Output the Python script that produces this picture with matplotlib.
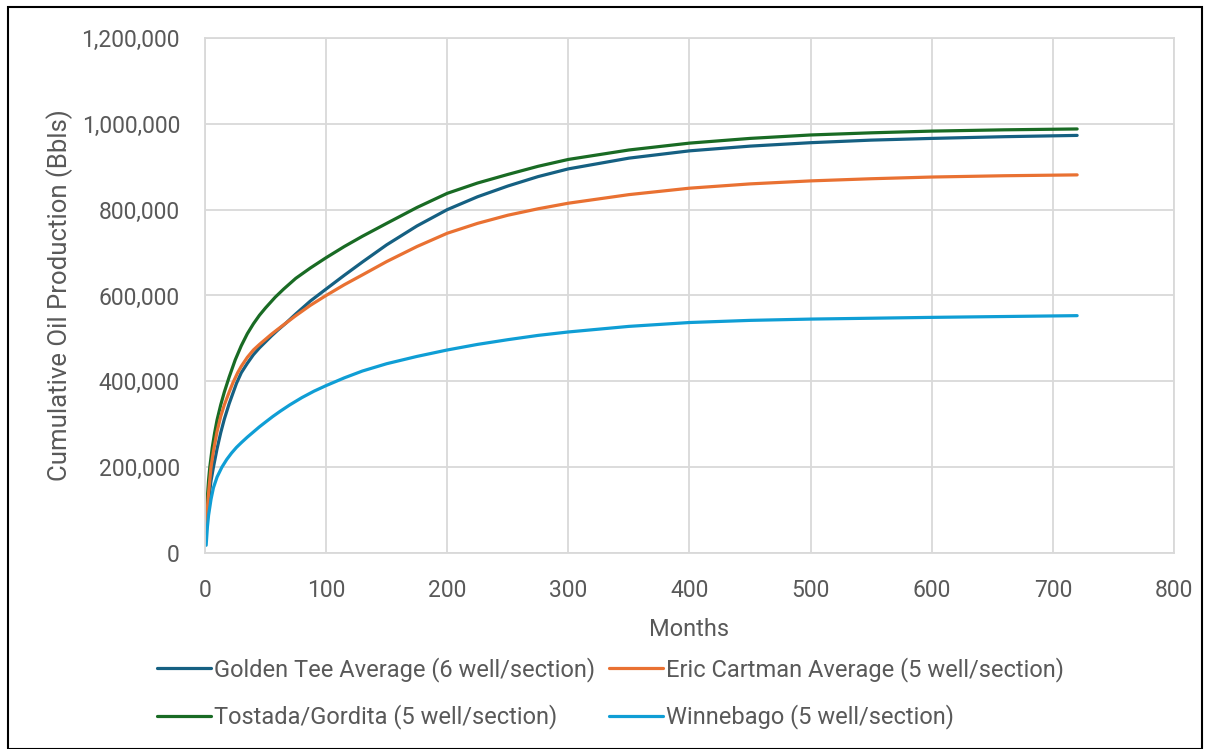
import numpy as np
import matplotlib
matplotlib.use("Agg")
from matplotlib import pyplot as plt
from matplotlib.patches import Rectangle
from matplotlib.ticker import FuncFormatter

plt.rcParams['font.family'] = ['Roboto', 'DejaVu Sans']

# values, cumulative oil in thousands of bbls

# Golden Tee Average (6 well/section)
gt_months = [1, 2, 3, 4, 5, 7, 10, 13, 16, 20, 26, 30, 35, 40, 45, 50, 55, 60, 67, 75, 87, 100,
             115, 130, 150, 175, 200, 225, 250, 275, 300, 350, 400, 450, 500, 550, 600, 660, 720]
gt_oil = [45, 90, 120, 145, 168, 200, 243, 280, 312, 348, 395, 420, 442, 462, 478, 492, 506, 519, 536, 557, 587, 615,
          647, 678, 718, 762, 800, 830, 855, 877, 895, 920, 937, 948, 956, 962, 966, 970, 973]

# Eric Cartman Average (5 well/section)
ec_months = [1, 2, 3, 5, 7, 10, 13, 16, 20, 23, 27, 30, 35, 40, 45, 50, 55, 60, 67, 75, 87, 100,
             115, 130, 150, 175, 200, 225, 250, 275, 300, 350, 400, 450, 500, 550, 600, 660, 720]
ec_oil = [55, 105, 140, 200, 237, 283, 318, 345, 375, 396, 420, 435, 456, 473, 486, 498, 510, 521, 536, 553, 577, 600,
          625, 648, 679, 714, 745, 768, 787, 802, 815, 835, 850, 860, 867, 872, 876, 879, 881]

# Tostada/Gordita (5 well/section)
tg_months = [1, 2, 3, 4, 6, 8, 10, 13, 16, 20, 25, 30, 35, 40, 45, 50, 58, 65, 75, 87, 100,
             115, 130, 150, 175, 200, 225, 250, 275, 300, 350, 400, 450, 500, 550, 600, 660, 720]
tg_oil = [75, 130, 170, 200, 245, 280, 310, 345, 375, 410, 450, 483, 511, 534, 554, 571, 596, 615, 640, 664, 688,
          714, 738, 768, 805, 838, 862, 882, 901, 917, 939, 955, 966, 974, 979, 983, 986, 988]

# Winnebago (5 well/section)
wb_months = [1, 2, 3, 5, 7, 10, 14, 18, 22, 26, 30, 35, 40, 45, 50, 56, 62, 70, 80, 90, 100,
             115, 130, 150, 175, 200, 225, 250, 275, 300, 350, 400, 450, 500, 550, 600, 660, 720]
wb_oil = [18, 60, 88, 125, 152, 177, 200, 218, 233, 246, 257, 270, 282, 294, 305, 318, 330, 345, 362, 377, 390,
          408, 424, 441, 458, 473, 486, 497, 507, 515, 528, 537, 542, 545, 547, 549, 551, 553]

text_color = '#595959'
grid_color = '#D9D9D9'

fig = plt.figure(figsize=(12.07, 7.49), dpi=100)
ax = fig.add_axes([0.1698, 0.2617, 0.8029, 0.6876])

ax.plot(gt_months, np.array(gt_oil) * 1000, color='#156082', lw=2.3,
        label='Golden Tee Average (6 well/section)', solid_capstyle='round')
ax.plot(tg_months, np.array(tg_oil) * 1000, color='#196B24', lw=2.3,
        label='Tostada/Gordita (5 well/section)', solid_capstyle='round')
ax.plot(ec_months, np.array(ec_oil) * 1000, color='#E97132', lw=2.3,
        label='Eric Cartman Average (5 well/section)', solid_capstyle='round')
ax.plot(wb_months, np.array(wb_oil) * 1000, color='#0F9ED5', lw=2.3,
        label='Winnebago (5 well/section)', solid_capstyle='round')

ax.set_xlim(0, 800)
ax.set_ylim(0, 1200000)
ax.set_xticks(range(0, 801, 100))
ax.set_yticks(range(0, 1200001, 200000))
ax.yaxis.set_major_formatter(FuncFormatter(lambda v, p: '{:,.0f}'.format(v)))
ax.grid(True, color=grid_color, lw=1.3)
ax.set_axisbelow(True)
for s in ax.spines.values():
    s.set_color(grid_color)
    s.set_linewidth(1.3)
ax.tick_params(length=0, labelsize=16.5, colors=text_color)
ax.tick_params(axis='y', pad=18)
ax.tick_params(axis='x', pad=19)

ax.set_xlabel('Months', fontsize=17, color=text_color, labelpad=11)
ax.set_ylabel('Cumulative Oil Production (Bbls)', fontsize=18.5, color=text_color, labelpad=6)

fig.legend(loc='upper center', bbox_to_anchor=(0.506, 0.151), ncol=2, frameon=False,
           fontsize=17, labelcolor=text_color, handlelength=2.25, handletextpad=0.15,
           columnspacing=0.6, labelspacing=0.95)

fig.patches.append(Rectangle((8 / 1207, 0), 1194 / 1207, 742 / 749, transform=fig.transFigure,
                             fill=False, edgecolor='black', lw=1.5))

fig.savefig('out.png', dpi=100)
